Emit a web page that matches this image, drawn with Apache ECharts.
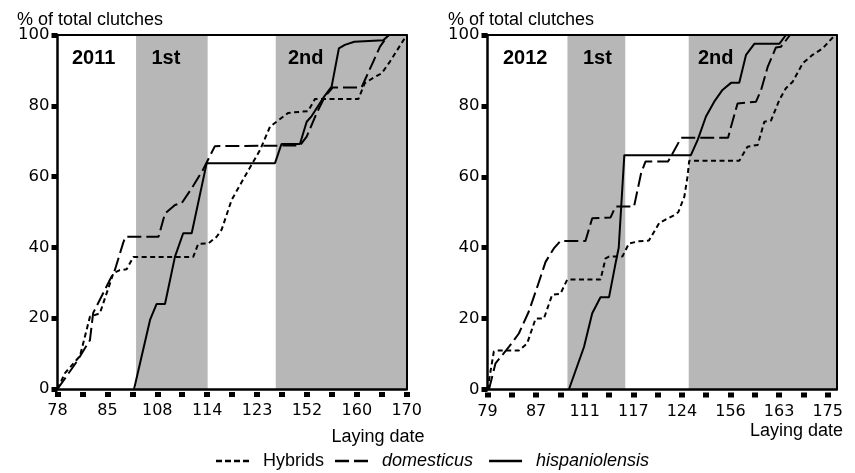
<!DOCTYPE html>
<html>
<head>
<meta charset="utf-8">
<script src="https://cdn.jsdelivr.net/npm/echarts@6/dist/echarts.min.js"></script>
<style>
  html, body { margin: 0; padding: 0; background: #fff; }
  #chart { width: 855px; height: 473px; }
</style>
</head>
<body>
<div id="chart"></div>
<script>
// x values are positions along the (broken) laying-date axis, in tick steps
const ticks2011 = ['78', '', '85', '', '108', '', '114', '', '123', '', '152', '', '160', '', '170'];
const ticks2012 = ['79', '', '87', '', '111', '', '117', '', '124', '', '156', '', '163', '', '175'];

// shaded laying periods (1st, 2nd)
const shade2011 = [[3.15, 6.02], [8.75, 14]];
const shade2012 = [[3.29, 5.67], [8.28, 14.37]];

const hybrids2011 = [[0, 0], [0.3, 4.5], [0.9, 9.3], [1.3, 20.4], [1.7, 21.4], [2.24, 32.7], [2.5, 33.6], [2.77, 33.8],
  [3.04, 37.3], [5.44, 37.3], [5.64, 41], [6.04, 41.1], [6.38, 43], [6.58, 45], [6.98, 53.4], [7.58, 60.9],
  [8.12, 67.5], [8.52, 74.1], [8.65, 74.8], [9.25, 78], [10.05, 78.5], [10.32, 81.9], [12.06, 81.9],
  [12.32, 86.4], [12.73, 88.2], [13, 89.2], [13.33, 92.5], [14, 100]];
const domesticus2011 = [[0, 0], [0.77, 7.7], [1.3, 13.8], [1.38, 14], [1.43, 21.5], [2.3, 33.6], [2.63, 41.2], [2.72, 43],
  [4.05, 43], [4.31, 49.6], [4.71, 52], [4.98, 52.5], [5.38, 56.7], [5.83, 61.9], [6.31, 68.6], [9.72, 68.8],
  [9.99, 71.3], [10.39, 77.9], [10.72, 82.6], [11.04, 85.2], [12.19, 85.2], [12.66, 92.5], [12.93, 96.7], [13.26, 100]];
const hispaniolensis2011 = [[3.07, 0], [3.71, 19.5], [3.97, 24], [4.31, 24], [4.71, 37.4], [5.04, 44], [5.38, 44],
  [5.98, 63.8], [8.72, 63.8], [8.98, 69.2], [9.72, 69.2], [9.99, 75.5], [10.19, 77.1], [10.69, 82.6],
  [10.99, 85.4], [11.28, 96.2], [11.52, 97.2], [11.9, 98.1], [13.06, 98.5], [13.29, 100]];

const hybrids2012 = [[0, 0], [0.26, 10.7], [0.4, 11], [1.29, 11], [1.63, 13], [1.98, 20], [2.32, 20], [2.66, 26.7],
  [3.0, 27], [3.28, 31], [4.65, 31], [4.86, 37], [5.0, 37.5], [5.55, 37.5], [5.82, 41.2], [6.23, 41.8],
  [6.64, 42], [7.07, 47], [7.69, 49.2], [7.85, 50], [8.1, 54.4], [8.23, 60], [8.3, 64.5], [10.36, 64.5],
  [10.7, 68.5], [11.12, 69], [11.39, 75.5], [11.67, 75.9], [12.01, 81.7], [12.28, 85], [12.56, 86.8],
  [12.97, 92], [13.38, 94.4], [13.79, 96.2], [14.3, 100]];
const domesticus2012 = [[0.06, 0], [0.33, 7.4], [0.88, 12], [1.29, 15.8], [1.7, 22], [2.05, 29], [2.39, 36],
  [2.73, 39.8], [3.0, 41.9], [4.03, 41.9], [4.31, 48.3], [5.06, 48.5], [5.27, 51.6], [6.03, 51.6], [6.32, 61],
  [6.5, 64.3], [7.43, 64.3], [7.97, 71], [9.9, 71], [10.02, 74.1], [10.29, 80.7], [11.05, 81.2], [11.26, 84.5],
  [11.53, 91], [11.87, 96.5], [12.08, 96.7], [12.45, 100]];
const hispaniolensis2012 = [[3.35, 0], [3.97, 12], [4.31, 21.5], [4.65, 26], [5.0, 26], [5.27, 35.6], [5.4, 40],
  [5.63, 66.1], [8.37, 66.1], [8.65, 70.4], [8.99, 77], [9.33, 81.2], [9.67, 84.5], [10.02, 86.5],
  [10.36, 86.5], [10.64, 94.4], [10.98, 97.5], [12.01, 97.5], [12.28, 100]];

const FONT = 'Liberation Sans';
const tickIdx = ticks2011.map((t, i) => i);
const labelIdx = tickIdx.filter(i => i % 2 === 0);

const chart = echarts.init(document.getElementById('chart'));

function bottomAxis(grid, max, labels) {
  return {
    type: 'value', gridIndex: grid, min: 0, max: max, interval: 1, position: 'bottom', z: 10,
    axisLine: { show: true, onZero: false, lineStyle: { color: '#000', width: 2.5 } },
    axisTick: { show: true, length: 8, customValues: tickIdx,
      lineStyle: { color: '#000', width: 6, type: [0, 3, 5, 40] } },
    axisLabel: { show: true, margin: 14, customValues: labelIdx,
      formatter: v => labels[Math.round(v)] || '',
      color: '#000', fontFamily: 'DejaVu Sans', fontSize: 16 },
    splitLine: { show: false }
  };
}
function topAxis(grid, max) {
  return {
    type: 'value', gridIndex: grid, min: 0, max: max, position: 'top', z: 10,
    axisLine: { show: true, onZero: false, lineStyle: { color: '#000', width: 2 } },
    axisTick: { show: false }, axisLabel: { show: false }, splitLine: { show: false }
  };
}
function leftAxis(grid) {
  return {
    type: 'value', gridIndex: grid, min: 0, max: 100, interval: 20, position: 'left', z: 10,
    axisLine: { show: true, onZero: false, lineStyle: { color: '#000', width: 2.5 } },
    axisTick: { show: true, length: 6, lineStyle: { color: '#000', width: 5 } },
    axisLabel: { margin: 8, color: '#000', fontFamily: 'DejaVu Sans', fontSize: 16.5 },
    splitLine: { show: false }
  };
}
function rightAxis(grid) {
  return {
    type: 'value', gridIndex: grid, min: 0, max: 100, position: 'right', z: 10,
    axisLine: { show: true, onZero: false, lineStyle: { color: '#000', width: 2 } },
    axisTick: { show: false }, axisLabel: { show: false }, splitLine: { show: false }
  };
}

const lineStyles = {
  Hybrids: { color: '#000', width: 2, type: [5, 3.5] },
  domesticus: { color: '#000', width: 2, type: [14, 5] },
  hispaniolensis: { color: '#000', width: 2 }
};

function lineSeries(name, data, axis) {
  return {
    name: name, type: 'line', xAxisIndex: axis, yAxisIndex: axis, data: data,
    symbol: 'none', color: '#000', itemStyle: { color: '#000' },
    lineStyle: lineStyles[name], z: 3, silent: true
  };
}
function shadeSeries(axis, shade) {
  return {
    type: 'line', xAxisIndex: axis, yAxisIndex: axis, data: [], z: 1, silent: true,
    markArea: {
      silent: true, itemStyle: { color: '#b7b7b7' },
      data: shade.map(s => [{ xAxis: s[0] }, { xAxis: s[1] }])
    }
  };
}

function text(x, y, s, size, weight) {
  return {
    type: 'text', x: x, y: y, z: 20,
    style: { text: s, fontFamily: FONT, fontSize: size, fontWeight: weight || 'normal', fill: '#000',
      align: 'left', verticalAlign: 'middle', textAlign: 'left', textVerticalAlign: 'middle' }
  };
}

chart.setOption({
  backgroundColor: '#fff',
  animation: false,
  grid: [
    { left: 57.5, top: 35, width: 349.2, height: 354 },
    { left: 487.5, top: 35, width: 349.2, height: 354.5 }
  ],
  xAxis: [bottomAxis(0, 14, ticks2011), topAxis(0, 14), bottomAxis(1, 14.37, ticks2012), topAxis(1, 14.37)],
  yAxis: [leftAxis(0), rightAxis(0), leftAxis(1), rightAxis(1)],
  legend: {
    left: 216, top: 452, padding: 0, itemWidth: 33, itemHeight: 2.5, itemGap: 11, selectedMode: false,
    symbolKeepAspect: false,
    itemStyle: { color: '#000', borderWidth: 0, opacity: 1 },
    data: [
      { name: 'Hybrids', icon: 'path://M0,0h6v2.5h-6z M9,0h6v2.5h-6z M18,0h6v2.5h-6z M27,0h6v2.5h-6z' },
      { name: 'domesticus', icon: 'path://M0,0h14v2.5h-14z M19,0h14v2.5h-14z' },
      { name: 'hispaniolensis', icon: 'path://M0,0h33v2.5h-33z' }
    ],
    formatter: n => n === 'Hybrids' ? '{n|' + n + '}'
      : n === 'domesticus' ? '{i|' + n + '}{s| }' : '{i|' + n + '}',
    textStyle: {
      fontFamily: FONT, fontSize: 18, color: '#000',
      rich: {
        n: { fontFamily: FONT, fontSize: 18, color: '#000', padding: [0, 0, 0, 9] },
        i: { fontFamily: FONT, fontSize: 18, color: '#000', fontStyle: 'italic', padding: [0, 0, 0, 9] },
        s: { fontFamily: FONT, fontSize: 18, width: 10 }
      }
    }
  },
  graphic: [
    text(17, 20, '% of total clutches', 18),
    text(448, 20, '% of total clutches', 18),
    text(72, 58.5, '2011', 20, 'bold'),
    text(151.5, 58.5, '1st', 20, 'bold'),
    text(288, 58.5, '2nd', 20, 'bold'),
    text(503, 58.5, '2012', 20, 'bold'),
    text(583, 58.5, '1st', 20, 'bold'),
    text(698, 58.5, '2nd', 20, 'bold'),
    text(331.5, 437, 'Laying date', 18),
    text(750, 431, 'Laying date', 18)
  ],
  series: [
    shadeSeries(0, shade2011),
    shadeSeries(2, shade2012),
    lineSeries('Hybrids', hybrids2011, 0),
    lineSeries('domesticus', domesticus2011, 0),
    lineSeries('hispaniolensis', hispaniolensis2011, 0),
    lineSeries('Hybrids', hybrids2012, 2),
    lineSeries('domesticus', domesticus2012, 2),
    lineSeries('hispaniolensis', hispaniolensis2012, 2)
  ]
});
</script>
</body>
</html>
